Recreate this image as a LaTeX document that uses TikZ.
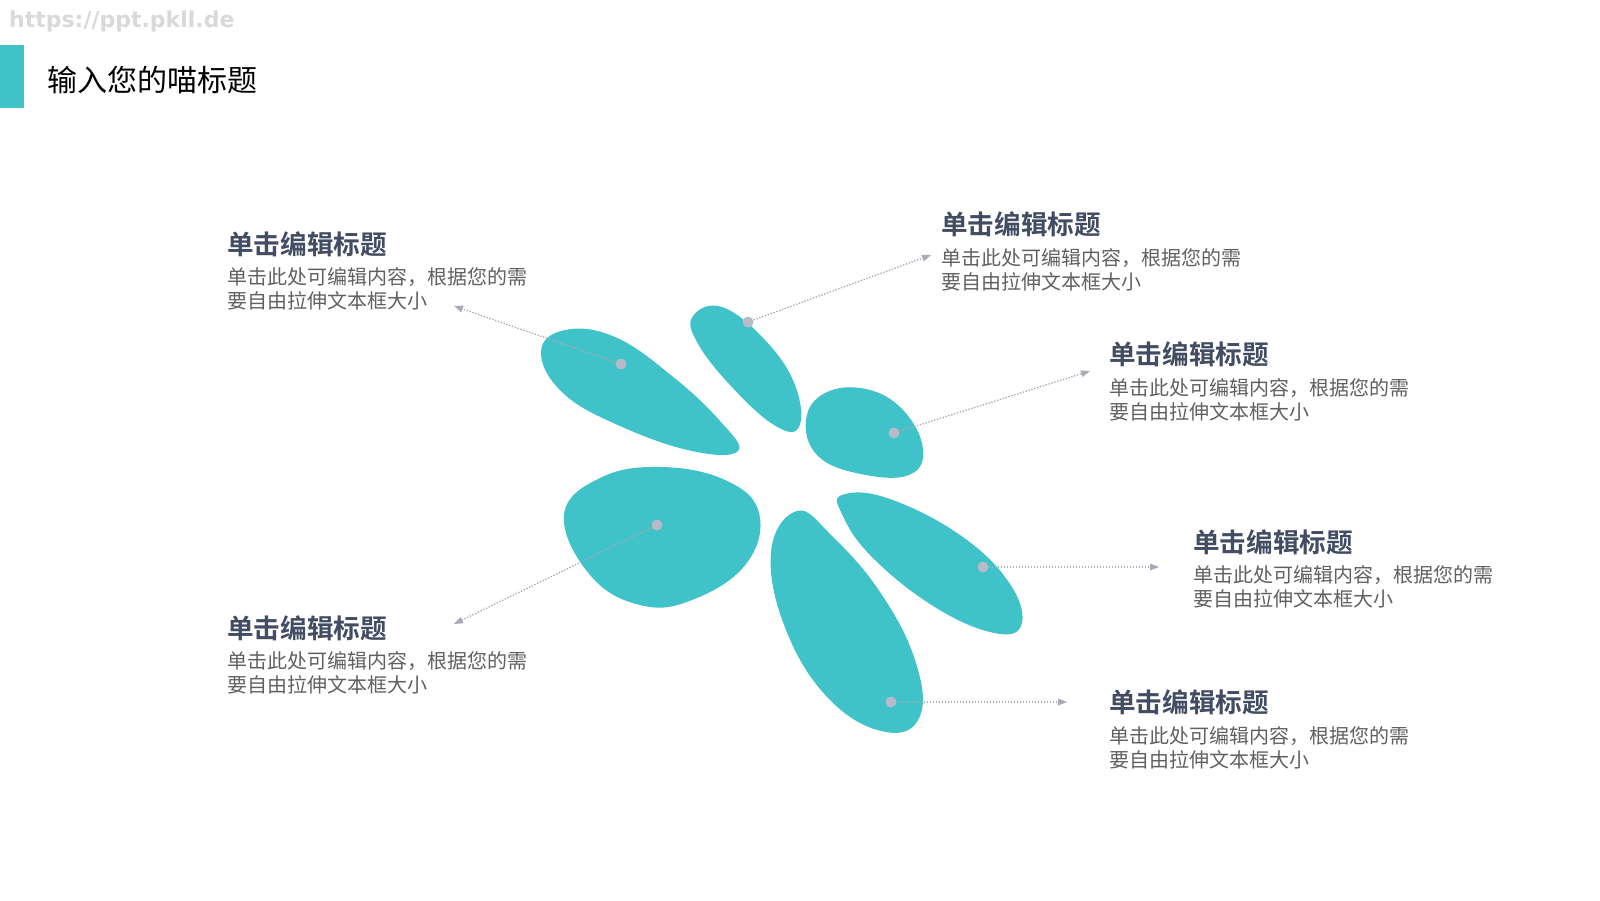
\documentclass[tikz,border=0pt]{standalone}
\usepackage{fontspec}
\newfontfamily\cjk{Noto Sans CJK SC}[BoldFont={Noto Sans CJK SC Bold}]
\newfontfamily\wmfont{DejaVu Sans}
\usetikzlibrary{arrows.meta}
\definecolor{petal}{HTML}{3FC2C8}
\definecolor{ttl}{HTML}{424D63}
\definecolor{bdy}{HTML}{606060}
\definecolor{dotc}{HTML}{B7BAC8}
\definecolor{linec}{HTML}{A8AAB6}
\definecolor{wm}{HTML}{D9D9D9}
\tikzset{
  petalshape/.style={fill=petal, draw=none},
  hdot/.style={circle, fill=dotc, inner sep=0pt, minimum size=11pt},
  leader/.style={draw=linec, line width=1.3pt, dash pattern=on 1.4pt off 1.6pt,
    -{Triangle[length=9pt,width=7pt,fill=linec,line width=0pt]}},
  blocktitle/.style={anchor=west, inner sep=0pt, text=ttl, font=\cjk\bfseries\fontsize{26.6}{30}\selectfont},
  blockbody/.style={anchor=west, inner sep=0pt, text=bdy, align=left, font=\cjk\fontsize{20}{24}\selectfont},
}
\begin{document}
\begin{tikzpicture}[x=1pt,y=-1pt]
\useasboundingbox (0,0) rectangle (1600,900);
% watermark
\node[anchor=west, inner sep=0pt, text=wm, font=\wmfont\bfseries\fontsize{22}{26}\selectfont] (wm) at (9,21) {https://ppt.pkll.de};
% header
\fill[petal] (0,45) rectangle (24,108);
\node[anchor=west, inner sep=0pt, font=\cjk\fontsize{30}{34}\selectfont] (head) at (47,80) {输入您的喵标题};

% petals
\fill[petalshape] plot[smooth cycle, tension=0.7] coordinates {(541,352) (565,330) (615,337) (672,376) (720,421) (738,451) (692,451) (620,426) (563,393)};
\fill[petalshape] plot[smooth cycle, tension=0.7] coordinates {(693,316) (722,307) (765,340) (795,385) (799,427) (774,425) (730,385) (697,342)};
\fill[petalshape] plot[smooth cycle, tension=0.7] coordinates {(806,420) (825,393) (866,389) (903,410) (923,449) (909,475) (861,474) (818,456)};
\fill[petalshape] plot[smooth cycle, tension=0.7] coordinates {(564,515) (600,478) (660,467) (725,480) (759,513) (746,564) (692,600) (640,605) (590,575)};
\fill[petalshape] plot[smooth cycle, tension=0.7] coordinates {(797,511) (832,536) (880,592) (915,660) (920,716) (886,732) (830,700) (786,630) (771,552)};
\fill[petalshape] plot[smooth cycle, tension=0.7] coordinates {(842,495) (887,498) (960,535) (1010,584) (1021,626) (990,632) (930,604) (870,555) (842,514)};

% leader end points
\coordinate (eA) at (454,306);
\coordinate (eB) at (931,255);
\coordinate (eC) at (1090,371);
\coordinate (eD) at (454,624);
\coordinate (eF) at (1159,567);
\coordinate (eE) at (1067,702);
\coordinate (pA) at (621,364);
\coordinate (pB) at (748,322);
\coordinate (pC) at (894,433);
\coordinate (pD) at (657,525);
\coordinate (pF) at (983,567);
\coordinate (pE) at (891,702);

\draw[leader] (pA) -- (eA);
\draw[leader] (pB) -- (eB);
\draw[leader] (pC) -- (eC);
\draw[leader] (pD) -- (eD);
\draw[leader] (pF) -- (eF);
\draw[leader] (pE) -- (eE);

\node[hdot] (dA) at (pA) {};
\node[hdot] (dB) at (pB) {};
\node[hdot] (dC) at (pC) {};
\node[hdot] (dD) at (pD) {};
\node[hdot] (dF) at (pF) {};
\node[hdot] (dE) at (pE) {};

% text blocks
\node[blocktitle] (t1) at (227,244) {单击编辑标题};
\node[blockbody] (b1) at (227,289) {单击此处可编辑内容，根据您的需\\要自由拉伸文本框大小};
\node[blocktitle] (t2) at (941,224) {单击编辑标题};
\node[blockbody] (b2) at (941,270) {单击此处可编辑内容，根据您的需\\要自由拉伸文本框大小};
\node[blocktitle] (t3) at (1109,354) {单击编辑标题};
\node[blockbody] (b3) at (1109,400) {单击此处可编辑内容，根据您的需\\要自由拉伸文本框大小};
\node[blocktitle] (t4) at (1193,542) {单击编辑标题};
\node[blockbody] (b4) at (1193,587) {单击此处可编辑内容，根据您的需\\要自由拉伸文本框大小};
\node[blocktitle] (t5) at (1109,702) {单击编辑标题};
\node[blockbody] (b5) at (1109,748) {单击此处可编辑内容，根据您的需\\要自由拉伸文本框大小};
\node[blocktitle] (t6) at (227,628) {单击编辑标题};
\node[blockbody] (b6) at (227,673) {单击此处可编辑内容，根据您的需\\要自由拉伸文本框大小};
\end{tikzpicture}
\end{document}
